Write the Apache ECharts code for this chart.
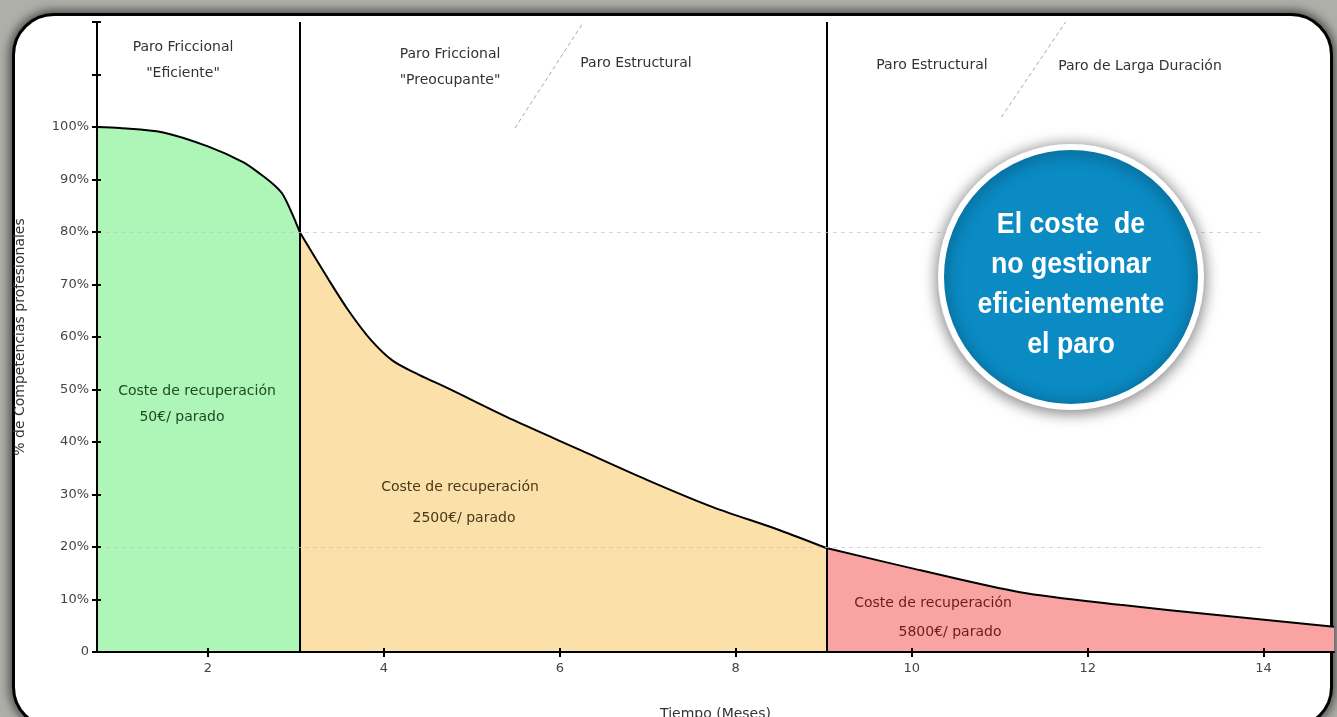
<!DOCTYPE html>
<html>
<head>
<meta charset="utf-8">
<script src="https://cdn.jsdelivr.net/npm/echarts@6/dist/echarts.min.js"></script>
<style>
  html, body { margin:0; padding:0; width:1337px; height:717px; overflow:hidden; background:#aeafa9; }
  #panel { position:absolute; left:12px; top:13px; width:1321px; height:716px; box-sizing:border-box;
           background:#fff; border:3px solid #000; border-radius:42px;
           box-shadow: 0 0 10px 3px rgba(0,0,0,0.55); }
  #chart { position:absolute; left:0; top:0; width:1337px; height:717px; }
</style>
</head>
<body>
<div id="panel"></div>
<div id="chart"></div>
<script>
// ---- data ----
const months      = [0.74, 1.0, 1.48, 2.0, 2.4, 2.6, 2.75, 2.85, 2.95, 3.05, 3.37, 3.6, 3.85, 4.1, 4.4, 4.72, 5.47, 6.23, 6.99, 7.74, 8.5, 9.03, 10.09, 11.23, 12.37, 13.5, 14.8];
const competencias = [100, 99.8, 99.0, 96.3, 93.3, 91.0, 89.0, 87.2, 83.8, 79.8, 71.0, 65.0, 59.5, 55.5, 52.8, 50.3, 44.2, 38.5, 32.8, 27.6, 23.2, 19.8, 15.6, 11.4, 9.0, 7.0, 4.8];
const phaseBounds = [3.05, 9.03];               // vertical separators (months)
const refLevels   = [80, 20];                   // dashed reference levels (%)
const refEnd      = 14;                         // dashed lines end (months)
const xTicks      = [2, 4, 6, 8, 10, 12, 14];
const yTicks      = [0, 10, 20, 30, 40, 50, 60, 70, 80, 90, 100];
const diagDividers = [[[5.49, 99.8], [6.27, 120]], [[11.02, 101.9], [11.75, 120]]];
const phaseTitles = [
  { text: 'Paro Friccional\n"Eficiente"', x: 183, y: 60 },
  { text: 'Paro Friccional\n"Preocupante"', x: 450, y: 67 },
  { text: 'Paro Estructural', x: 636, y: 63 },
  { text: 'Paro Estructural', x: 932, y: 65 },
  { text: 'Paro de Larga Duración', x: 1140, y: 66 }
];
const costLabels = [
  { l1: 'Coste de recuperación', l2: '50€/ parado',   x1: 197, y1: 391, x2: 182, y2: 417, color: '#1f4a22' },
  { l1: 'Coste de recuperación', l2: '2500€/ parado', x1: 460, y1: 487, x2: 464, y2: 518, color: '#4a3717' },
  { l1: 'Coste de recuperación', l2: '5800€/ parado', x1: 933, y1: 603, x2: 950, y2: 632, color: '#6a1c1c' }
];
const fills = ['#aef5b8', '#fbe0a9', '#f9a3a3'];

// ---- build segments ----
const pts = months.map((m, i) => [m, competencias[i]]);
const seg1 = pts.filter(p => p[0] <= phaseBounds[0]);
const seg2 = pts.filter(p => p[0] >= phaseBounds[0] && p[0] <= phaseBounds[1]);
const seg3 = pts.filter(p => p[0] >= phaseBounds[1]);

const FONT = '"DejaVu Sans", "Lucida Grande", sans-serif';

function areaSeries(data, color, extra) {
  return Object.assign({
    type: 'line', data: data, smooth: 0.3, symbol: 'none',
    lineStyle: { color: '#000', width: 2 },
    areaStyle: { color: color, opacity: 1 },
    z: 2, silent: true, clip: false
  }, extra || {});
}

const markLineData = [];
phaseBounds.forEach(b => markLineData.push({ xAxis: b, lineStyle: { color: '#000', width: 2, type: 'solid' } }));
refLevels.forEach(v => markLineData.push([
  { coord: [months[0], v], lineStyle: { color: 'rgba(195,195,195,0.7)', width: 1, type: [4, 4] } },
  { coord: [refEnd, v] }
]));
diagDividers.forEach(d => markLineData.push([
  { coord: d[0], lineStyle: { color: '#a8a8a8', width: 1, type: [4, 3] } },
  { coord: d[1] }
]));

const graphics = [];
phaseTitles.forEach(t => graphics.push({
  type: 'text', x: t.x, y: t.y, z: 50,
  style: { text: t.text, fill: '#333', font: '14px ' + FONT, textAlign: 'center', textVerticalAlign: 'middle', lineHeight: 26 }
}));
costLabels.forEach(c => {
  graphics.push({ type: 'text', x: c.x1, y: c.y1, z: 50,
    style: { text: c.l1, fill: c.color, font: '14px ' + FONT, textAlign: 'center', textVerticalAlign: 'middle' } });
  graphics.push({ type: 'text', x: c.x2, y: c.y2, z: 50,
    style: { text: c.l2, fill: c.color, font: '14px ' + FONT, textAlign: 'center', textVerticalAlign: 'middle' } });
});
graphics.push({
  type: 'circle', shape: { cx: 1071, cy: 277, r: 130 }, z: 60,
  style: { fill: '#0a8bc4', stroke: '#ffffff', lineWidth: 6, shadowBlur: 16, shadowColor: 'rgba(0,0,0,0.5)', shadowOffsetY: 2 }
});
graphics.push({
  type: 'text', x: 1071, y: 285, z: 61, scaleX: 0.92,
  style: { text: 'El coste  de\nno gestionar\neficientemente\nel paro', fill: '#fff',
           font: 'bold 29px "Liberation Sans", Arial, sans-serif',
           textAlign: 'center', textVerticalAlign: 'middle', lineHeight: 40 }
});

const chart = echarts.init(document.getElementById('chart'), null, { renderer: 'canvas' });
const axisCommon = { color: '#444', fontFamily: FONT, fontSize: 13 };
chart.setOption({
  backgroundColor: 'transparent',
  animation: false,
  grid: { left: 97, right: 3, top: 22, bottom: 65, containLabel: false, outerBoundsMode: 'none' },
  xAxis: [{
    type: 'value', min: months[0], max: 14.8, z: 10,
    name: 'Tiempo (Meses)', nameLocation: 'middle', nameGap: 55,
    nameTextStyle: { color: '#333', fontFamily: FONT, fontSize: 14 },
    axisLine: { show: true, lineStyle: { color: '#000', width: 2 } },
    axisTick: { show: true, customValues: xTicks, length: 5, lineStyle: { color: '#000', width: 2 } },
    axisLabel: Object.assign({ customValues: xTicks, margin: 10 }, axisCommon),
    splitLine: { show: false }
  }, {
    type: 'value', min: months[0], max: 14.8, position: 'bottom', offset: 0, z: 10,
    axisLine: { show: false },
    axisTick: { show: true, inside: true, customValues: xTicks, length: 4, lineStyle: { color: '#000', width: 2 } },
    axisLabel: { show: false }, splitLine: { show: false }
  }],
  yAxis: [{
    type: 'value', min: 0, max: 120, interval: 10, z: 10,
    name: '% de Competencias profesionales', nameLocation: 'middle', nameGap: 70, nameRotate: 90,
    nameTextStyle: { color: '#333', fontFamily: FONT, fontSize: 14 },
    axisLine: { show: true, lineStyle: { color: '#000', width: 2 } },
    axisTick: { show: true, length: 5, lineStyle: { color: '#000', width: 2 } },
    axisLabel: Object.assign({ margin: 8,
      formatter: v => (yTicks.indexOf(v) < 0 ? '' : (v === 0 ? '0' : v + '%')) }, axisCommon),
    splitLine: { show: false }
  }, {
    type: 'value', min: 0, max: 120, interval: 10, position: 'left', offset: 0, z: 10,
    axisLine: { show: false },
    axisTick: { show: true, inside: true, length: 4, lineStyle: { color: '#000', width: 2 } },
    axisLabel: { show: false }, splitLine: { show: false }
  }],
  series: [
    areaSeries(seg1, fills[0]),
    areaSeries(seg2, fills[1]),
    areaSeries(seg3, fills[2], {
      markLine: { silent: true, symbol: 'none', label: { show: false }, data: markLineData, z: 5 }
    })
  ],
  graphic: graphics
});
</script>
</body>
</html>
